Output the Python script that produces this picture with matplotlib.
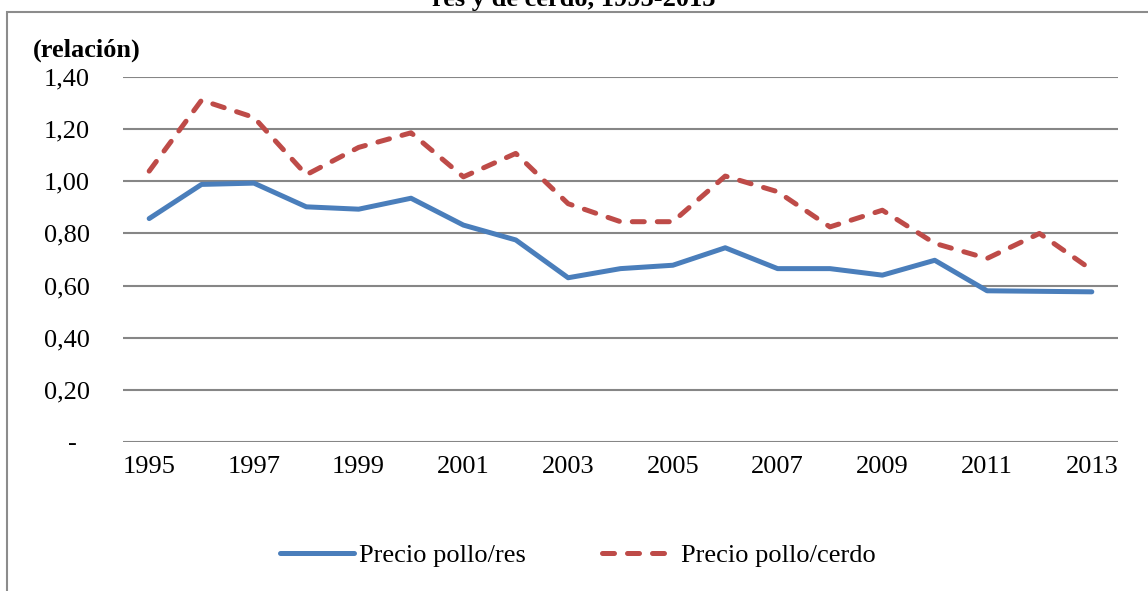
import matplotlib.pyplot as plt
from matplotlib.patches import Rectangle
from matplotlib.ticker import FuncFormatter

years = [str(y) for y in range(1995, 2014)]
pollo_res = [0.857, 0.988, 0.993, 0.902, 0.893, 0.935, 0.832, 0.775, 0.630,
             0.665, 0.678, 0.745, 0.665, 0.665, 0.640, 0.697, 0.580, 0.578, 0.576]
pollo_cerdo = [1.039, 1.311, 1.245, 1.025, 1.130, 1.186, 1.017, 1.107, 0.914,
               0.845, 0.845, 1.020, 0.960, 0.825, 0.889, 0.762, 0.704, 0.800, 0.660]

plt.rcParams['font.family'] = ['Liberation Serif', 'DejaVu Serif']

fig = plt.figure(figsize=(11.48, 5.91), dpi=100)
ax = fig.add_axes([123 / 1148, 1 - 442 / 591, (1118 - 123) / 1148, (442 - 77) / 591])

x = list(range(len(years)))
ax.plot(x, pollo_res, color='#4A7EBB', lw=3.6, solid_capstyle='round',
        solid_joinstyle='round', label='Precio pollo/res', zorder=3)
ax.plot(x, pollo_cerdo, color='#BE4B48', lw=3.6, dash_capstyle='round',
        dashes=(2.4, 2.6), label='Precio pollo/cerdo', zorder=3)

ax.set_xlim(-0.5, len(years) - 0.5)
ax.set_ylim(0, 1.4)
ax.set_yticks([0, 0.2, 0.4, 0.6, 0.8, 1.0, 1.2, 1.4])
ax.yaxis.set_major_formatter(FuncFormatter(lambda v, p: '-  ' if abs(v) < 1e-9 else f'{v:.2f}'.replace('.', ',')))
ax.set_xticks(x[::2])
ax.set_xticklabels(years[::2])
ax.grid(axis='y', color='#868686', lw=1.5)
ax.set_axisbelow(True)
for s in ax.spines.values():
    s.set_visible(False)
ax.tick_params(length=0, labelsize=19, pad=10)
ax.tick_params(axis='y', pad=24)

fig.text(33 / 1148, 1 - 50 / 591, '(relación)', fontsize=19, fontweight='bold', va='center', ha='left')
fig.text(574 / 1148, 1 - 11 / 591, 'Relación de precios de pollo a precios de carne de\nres y de cerdo, 1995-2013',
         fontsize=19, fontweight='bold', ha='center', va='bottom', linespacing=1.1)

fig.patches.append(Rectangle((7 / 1148, -0.1), 1.2, 1.1 - 12 / 591, transform=fig.transFigure,
                             fill=False, edgecolor='#8c8c8c', lw=1.5))

fig.legend(loc='center', bbox_to_anchor=(578 / 1148, 1 - 555 / 591), ncol=2, frameon=False,
           fontsize=19, handlelength=2.8, columnspacing=2.9, handletextpad=0.2)

fig.savefig('out.png', dpi=100)
